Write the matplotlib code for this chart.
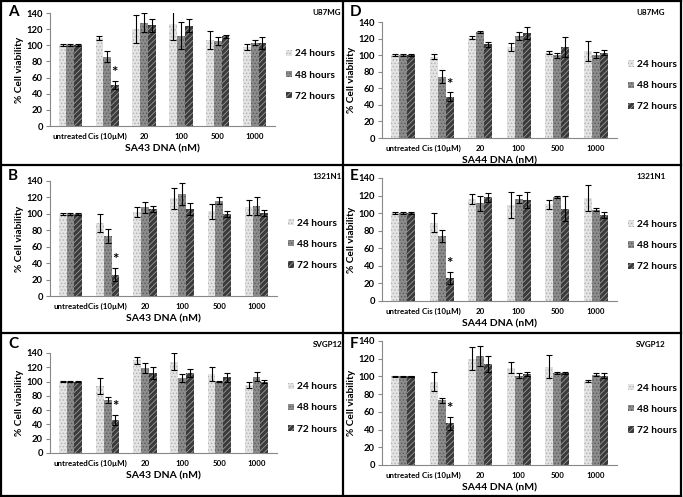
import numpy as np
import matplotlib
matplotlib.use("Agg")
import matplotlib.pyplot as plt
from matplotlib.lines import Line2D

plt.rcParams['font.family'] = ['Lato', 'DejaVu Sans']
plt.rcParams['hatch.linewidth'] = 0.6

# categories and series
categories = ['untreated', 'Cis (10µM)', '20', '100', '500', '1000']
series = ['24 hours', '48 hours', '72 hours']

# panel A - U87MG, SA43
a_mean = [[100, 109, 120, 126, 107, 98],
          [100, 86, 128, 112, 105, 103],
          [100, 51, 125, 124, 111, 103]]
a_err = [[1, 3, 17, 20, 11, 4],
         [1, 7, 12, 17, 5, 3],
         [1, 5, 8, 8, 2, 7]]
# panel B - 1321N1, SA43
b_mean = [[100, 89, 102, 119, 103, 108],
          [100, 73, 108, 124, 116, 110],
          [100, 26, 106, 106, 100, 101]]
b_err = [[1, 11, 6, 13, 9, 9],
         [1, 8, 7, 13, 4, 11],
         [1, 8, 4, 7, 4, 4]]
# panel C - SVGP12, SA43
c_mean = [[100, 94, 130, 128, 111, 95],
          [100, 74, 119, 105, 100, 107],
          [100, 46, 112, 112, 106, 100]]
c_err = [[1, 11, 5, 12, 10, 4],
         [1, 4, 7, 6, 1, 6],
         [1, 7, 9, 6, 6, 2]]
# panel D - U87MG, SA44
d_mean = [[100, 98, 121, 110, 103, 105],
          [100, 74, 128, 123, 100, 100],
          [100, 50, 113, 127, 110, 103]]
d_err = [[1, 3, 2, 5, 2, 12],
         [1, 8, 1, 5, 3, 4],
         [1, 5, 3, 7, 12, 3]]
# panel E - 1321N1, SA44
e_mean = [[100, 89, 116, 109, 110, 117],
          [100, 74, 111, 116, 118, 104],
          [100, 26, 118, 115, 105, 98]]
e_err = [[1, 11, 6, 15, 5, 15],
         [1, 7, 8, 5, 1, 2],
         [1, 7, 5, 9, 14, 3]]
# panel F - SVGP12, SA44
f_mean = [[100, 94, 120, 110, 111, 95],
          [100, 73, 123, 101, 104, 102],
          [100, 47, 114, 103, 104, 101]]
f_err = [[1, 11, 13, 6, 13, 1],
         [1, 3, 11, 3, 1, 2],
         [1, 7, 9, 2, 1, 3]]

panels = [
    ('A', 'U87MG', 'SA43 DNA (nM)', a_mean, a_err, [50, 13, 275, 126]),
    ('B', '1321N1', 'SA43 DNA (nM)', b_mean, b_err, [50, 181, 277, 296]),
    ('C', 'SVGP12', 'SA43 DNA (nM)', c_mean, c_err, [50, 353, 277, 453]),
    ('D', 'U87MG', 'SA44 DNA (nM)', d_mean, d_err, [382, 22, 617, 138]),
    ('E', '1321N1', 'SA44 DNA (nM)', e_mean, e_err, [382, 178, 617, 301]),
    ('F', 'SVGP12', 'SA44 DNA (nM)', f_mean, f_err, [382, 341, 617, 465]),
]

W, H = 683, 497
fig = plt.figure(figsize=(W / 100, H / 100), dpi=100)

faces = ['#e4e4e4', '#8c8c8c', '#3a3a3a']
hatch_cols = ['#b0b0b0', '#5a5a5a', '#9a9a9a']
hatches = ['.....', '.....', '//////']

x = np.arange(len(categories))
bw = 0.21

for letter, cell, xlabel, mean, err, (l, t, r, b) in panels:
    ax = fig.add_axes([l / W, 1 - b / H, (r - l) / W, (b - t) / H])
    for i in range(3):
        ax.bar(x + (i - 1) * bw, mean[i], bw, color=faces[i], edgecolor=hatch_cols[i],
               hatch=hatches[i], linewidth=0, zorder=2)
        ax.errorbar(x + (i - 1) * bw, mean[i], yerr=err[i], fmt='none', ecolor='black',
                    elinewidth=0.8, capsize=2.2, capthick=0.8, zorder=3)
    # significance star above 72 h cisplatin bar
    ax.text(x[1] + bw, mean[2][1] + err[2][1] + 1, '*', ha='center', va='bottom',
            fontsize=11, fontweight='bold')
    ax.set_ylim(0, 140)
    ax.set_yticks(range(0, 141, 20))
    ax.set_xlim(-0.55, len(categories) - 0.45)
    ax.set_xticks(x)
    ax.set_xticklabels(categories)
    ax.tick_params(axis='x', length=0, labelsize=5.7, pad=5)
    ax.tick_params(axis='y', length=3, labelsize=6.8, color='#888888', pad=2)
    for lab in ax.get_xticklabels() + ax.get_yticklabels():
        lab.set_fontweight('bold')
    for s in ['top', 'right']:
        ax.spines[s].set_visible(False)
    for s in ['left', 'bottom']:
        ax.spines[s].set_color('#888888')
        ax.spines[s].set_linewidth(0.8)
    ax.set_ylabel('% Cell viability', fontsize=7.3, fontweight='bold', labelpad=2)
    ax.set_xlabel(xlabel, fontsize=7.5, fontweight='bold', labelpad=3)

    handles = [plt.Rectangle((0, 0), 1, 1, facecolor=faces[i], edgecolor=hatch_cols[i],
                             hatch=hatches[i], linewidth=0) for i in range(3)]
    ax.legend(handles, series, loc='center left', bbox_to_anchor=(1.03, 0.45),
              frameon=False, labelspacing=1.2, handlelength=0.6,
              handleheight=0.6, handletextpad=0.3, borderaxespad=0,
              prop={'weight': 'bold', 'size': 7.3})

    # panel letter and cell line name
    col_left = 1 if letter in 'ABC' else 342.5
    col_right = 342.5 if letter in 'ABC' else 681
    row_top = {'A': 1, 'D': 1, 'B': 165, 'E': 165, 'C': 333, 'F': 333}[letter]
    fig.text((col_left + 7) / W, 1 - (row_top + 4) / H, letter, fontsize=11,
             fontweight='bold', va='top', ha='left')
    fig.text((col_right - 30) / W if letter in 'ABC' else (col_right - 45) / W,
             1 - (row_top + 8) / H, cell, fontsize=5.8, fontweight='bold',
             va='top', ha='left')

# panel borders
lw = 1.6
def hline(y, x0=1, x1=681):
    fig.add_artist(Line2D([x0 / W, x1 / W], [1 - y / H, 1 - y / H], color='black', lw=lw))
def vline(xp, y0=1, y1=496):
    fig.add_artist(Line2D([xp / W, xp / W], [1 - y0 / H, 1 - y1 / H], color='black', lw=lw))

for yy in [1, 165, 333, 496]:
    hline(yy)
for xx in [1, 342.5, 681]:
    vline(xx)

fig.savefig('out.png', dpi=100)
